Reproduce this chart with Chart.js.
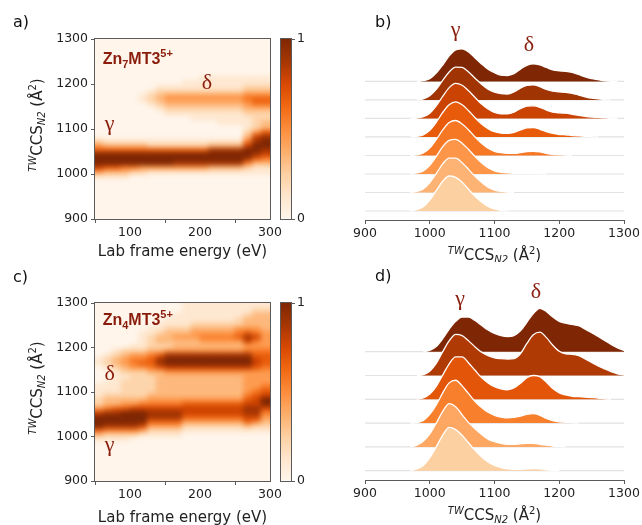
<!DOCTYPE html>
<html>
<head>
<meta charset="utf-8">
<script src="https://cdn.jsdelivr.net/npm/chart.js@4.4.0/dist/chart.umd.min.js"></script>
<style>
  body { margin: 0; background: #fff; width: 642px; height: 525px; position: relative; overflow: hidden; }
  canvas { position: absolute; }
</style>
</head>
<body>
<canvas id="hA" width="320" height="262" style="left:0;top:0"></canvas>
<canvas id="cA" width="45" height="262" style="left:275px;top:0"></canvas>
<canvas id="rB" width="322" height="262" style="left:320px;top:0"></canvas>
<canvas id="hC" width="320" height="263" style="left:0;top:262px"></canvas>
<canvas id="cC" width="45" height="263" style="left:275px;top:262px"></canvas>
<canvas id="rD" width="322" height="263" style="left:320px;top:262px"></canvas>
<script>
// ---------- data ----------
// heatmap columns (lab frame energy, eV, bin centres)
const heatEnergy = [56.25, 68.75, 81.25, 93.75, 106.25, 118.75, 131.25, 143.75, 156.25, 168.75,
  181.25, 193.75, 206.25, 218.75, 231.25, 243.75, 256.25, 268.75, 281.25, 293.75];
// heatmap rows (CCS lower bin edge, top row first)
const heatCcs = [1290, 1280, 1270, 1260, 1250, 1240, 1230, 1220, 1210, 1200,
  1190, 1180, 1170, 1160, 1150, 1140, 1130, 1120, 1110, 1100,
  1090, 1080, 1070, 1060, 1050, 1040, 1030, 1020, 1010, 1000,
  990, 980, 970, 960, 950, 940, 930, 920, 910, 900];
// intensity 0..9 per cell, one string per row
const zn7Heat = [
  '00000000000000000000', '00000000000000000000', '00000000000000000000', '00000000000000000000',
  '00000000000000000000', '00000000000000000000', '00000000000000000000', '00000000000000000000',
  '00000000000011111111', '00000000001111111111', '00000001111111111222', '00000012222222222333',
  '00000123444444444555', '00000123444444444566', '00000012333333333455', '00000001222222222333',
  '00000000111111111222', '00000000000111111122', '00000000000000111123', '00000000000000000123',
  '00000000000000000246', '00000000000000000378', '21111111111111111589', '43333322222223333799',
  '66666666666668888998', '99999999999999999987', '99999999999999999865', '99999999988888888533',
  '76655444444443333211', '43332211111111111111', '11110000000000000000', '00000000000000000000',
  '00000000000000000000', '00000000000000000000', '00000000000000000000', '00000000000000000000',
  '00000000000000000000', '00000000000000000000', '00000000000000000000', '00000000000000000000'
];
const zn4Heat = [
  '00000000001111111111', '00000000001111111122', '00000000011111111233', '00000000111111112333',
  '00000001111222222333', '00000011222333334443', '00000112333444445654', '00000123344455556874',
  '00000123333344444754', '00001122233333333444', '00122233444444444555', '01234456888888888866',
  '12345568999999999976', '12345668999999999976', '01234456777777777765', '00122233444444444444',
  '00112223333333333444', '01122223333333333444', '11122223333333333445', '11122223333333333456',
  '12222233333333333567', '23333344444444444679', '23344555556666666779', '45667777777777777887',
  '78899988887777777885', '99999988886666666774', '99999966664444444653', '98888744442222222322',
  '65555422221111111111', '32222111110000000000', '11110000000000000000', '00000000000000000000',
  '00000000000000000000', '00000000000000000000', '00000000000000000000', '00000000000000000000',
  '00000000000000000000', '00000000000000000000', '00000000000000000000', '00000000000000000000'
];
// ridge x positions (CCS, A^2)
const ridgeCcs = [960, 970, 980, 990, 1000, 1010, 1020, 1030, 1040, 1050, 1060, 1070, 1080, 1090,
  1100, 1110, 1120, 1130, 1140, 1150, 1160, 1170, 1180, 1190, 1200, 1210, 1220, 1230, 1240,
  1250, 1260, 1270, 1280, 1290, 1300];
// Zn7MT3 ridges, top (highest energy) to bottom
const zn7Ridges = [
  [0, 0, 0, 0.02, 0.08, 0.24, 0.47, 0.73, 0.9, 0.93, 0.84, 0.67, 0.5, 0.35, 0.25, 0.18, 0.17, 0.22, 0.35, 0.46, 0.5, 0.47, 0.4, 0.33, 0.3, 0.29, 0.26, 0.2, 0.13, 0.08, 0.05, 0.02, 0.005],
  [0, 0, 0, 0.03, 0.12, 0.3, 0.56, 0.8, 0.94, 0.93, 0.8, 0.62, 0.45, 0.31, 0.22, 0.18, 0.17, 0.23, 0.34, 0.42, 0.43, 0.38, 0.3, 0.25, 0.23, 0.22, 0.19, 0.14, 0.09, 0.05, 0.03, 0.01],
  [0, 0, 0.01, 0.05, 0.15, 0.36, 0.63, 0.88, 1.0, 0.95, 0.79, 0.6, 0.41, 0.27, 0.17, 0.13, 0.13, 0.18, 0.28, 0.35, 0.36, 0.32, 0.24, 0.18, 0.16, 0.15, 0.12, 0.09, 0.06, 0.04, 0.03, 0.02, 0.005],
  [0, 0, 0.02, 0.06, 0.19, 0.42, 0.7, 0.92, 1.0, 0.92, 0.75, 0.55, 0.37, 0.24, 0.15, 0.11, 0.1, 0.13, 0.2, 0.26, 0.27, 0.22, 0.15, 0.1, 0.07, 0.06, 0.04, 0.03, 0.02, 0.01],
  [0, 0, 0.02, 0.07, 0.21, 0.45, 0.73, 0.94, 1.0, 0.9, 0.73, 0.53, 0.35, 0.21, 0.12, 0.08, 0.06, 0.06, 0.08, 0.11, 0.12, 0.1, 0.06, 0.03, 0.02, 0.01],
  [0, 0, 0.03, 0.09, 0.25, 0.5, 0.78, 0.96, 0.99, 0.88, 0.7, 0.5, 0.32, 0.18, 0.09, 0.05, 0.03, 0.02, 0.02, 0.02, 0.02, 0.01],
  [0, 0, 0.03, 0.1, 0.28, 0.54, 0.82, 0.98, 0.98, 0.85, 0.66, 0.46, 0.29, 0.15, 0.07, 0.03, 0.01],
  [0, 0, 0.04, 0.12, 0.31, 0.58, 0.85, 1.0, 0.96, 0.82, 0.62, 0.42, 0.26, 0.13, 0.06, 0.02]
];
// Zn4MT3 ridges, top to bottom
const zn4Ridges = [
  [0, 0, 0, 0, 0.03, 0.12, 0.3, 0.52, 0.7, 0.8, 0.8, 0.72, 0.61, 0.5, 0.42, 0.37, 0.35, 0.37, 0.48, 0.68, 0.88, 1.0, 0.93, 0.8, 0.7, 0.66, 0.63, 0.6, 0.52, 0.44, 0.35, 0.26, 0.17, 0.09, 0.03],
  [0, 0, 0, 0.02, 0.1, 0.28, 0.55, 0.8, 0.95, 0.92, 0.8, 0.66, 0.54, 0.46, 0.41, 0.39, 0.38, 0.39, 0.5, 0.74, 0.94, 1.0, 0.88, 0.7, 0.56, 0.5, 0.49, 0.46, 0.38, 0.3, 0.22, 0.15, 0.09, 0.04, 0.01],
  [0, 0, 0, 0.03, 0.12, 0.3, 0.56, 0.82, 0.98, 0.98, 0.84, 0.67, 0.5, 0.38, 0.29, 0.24, 0.22, 0.26, 0.37, 0.5, 0.55, 0.52, 0.4, 0.25, 0.15, 0.1, 0.07, 0.06, 0.05, 0.04, 0.03, 0.01],
  [0, 0, 0.01, 0.06, 0.2, 0.42, 0.7, 0.93, 0.99, 0.86, 0.68, 0.5, 0.36, 0.25, 0.18, 0.14, 0.12, 0.13, 0.16, 0.2, 0.22, 0.18, 0.11, 0.06, 0.03, 0.02, 0.01],
  [0, 0, 0.04, 0.13, 0.3, 0.55, 0.82, 1.0, 0.93, 0.74, 0.56, 0.42, 0.29, 0.18, 0.12, 0.08, 0.06, 0.06, 0.07, 0.08, 0.08, 0.06, 0.04, 0.02, 0.01],
  [0, 0, 0.04, 0.12, 0.3, 0.55, 0.82, 1.0, 0.95, 0.82, 0.64, 0.47, 0.32, 0.2, 0.12, 0.07, 0.04, 0.03, 0.03, 0.04, 0.05, 0.04, 0.02, 0.01]
];
const energyTicks = [100, 200, 300];
const ccsTicks = [900, 1000, 1100, 1200, 1300];
const cbarTicks = [0, 1];
const cbarRange = [0, 1];

// ---------- style ----------
const ORANGES = ['#fff5eb', '#fee6ce', '#fdd0a2', '#fdae6b', '#fd8d3c', '#f16913', '#d94801', '#a63603', '#7f2704'];
const AXIS = '#5a5a5a';
const RED = '#8a1c0b';
const TICK_FONT = { family: 'DejaVu Sans', size: 12.5 };
Chart.defaults.font.family = 'DejaVu Sans';

function hex(h) { return [1, 3, 5].map(i => parseInt(h.slice(i, i + 2), 16)); }
function cmap(v) {
  v = Math.max(0, Math.min(1, v));
  const p = v * (ORANGES.length - 1);
  const i = Math.min(Math.floor(p), ORANGES.length - 2), f = p - i;
  const a = hex(ORANGES[i]), b = hex(ORANGES[i + 1]);
  return 'rgb(' + a.map((c, k) => Math.round(c + (b[k] - c) * f)).join(',') + ')';
}

// soften the cell edges like an interpolated image (edges replicated before blurring)
const smooth = {
  id: 'smooth',
  afterDatasetsDraw(chart, args, opts) {
    const a = chart.chartArea, ctx = chart.ctx, src = chart.canvas;
    const x = Math.round(a.left), y = Math.round(a.top);
    const w = Math.round(a.right) - x, h = Math.round(a.bottom) - y, m = 10;
    const tmp = document.createElement('canvas');
    tmp.width = w + 2 * m; tmp.height = h + 2 * m;
    const t = tmp.getContext('2d');
    t.drawImage(src, x, y, w, h, m, m, w, h);
    t.drawImage(src, x + 1, y, 1, h, 0, m, m, h);
    t.drawImage(src, x + w - 2, y, 1, h, m + w, m, m, h);
    t.drawImage(tmp, 0, m + 1, w + 2 * m, 1, 0, 0, w + 2 * m, m);
    t.drawImage(tmp, 0, m + h - 2, w + 2 * m, 1, 0, m + h, w + 2 * m, m);
    ctx.save();
    ctx.beginPath();
    ctx.rect(x, y, w, h);
    ctx.clip();
    ctx.filter = 'blur(' + (opts.radius || 2.5) + 'px)';
    ctx.drawImage(tmp, x - m, y - m);
    ctx.restore();
  }
};

// box around plot areas
const frame = {
  id: 'frame',
  afterDatasetsDraw(chart) {
    const a = chart.chartArea, ctx = chart.ctx;
    ctx.save();
    ctx.strokeStyle = AXIS;
    ctx.lineWidth = 1;
    ctx.strokeRect(Math.round(a.left) - 0.5, Math.round(a.top) - 0.5,
      Math.round(a.right - a.left) + 1, Math.round(a.bottom - a.top) + 1);
    ctx.restore();
  }
};

// text with sub/superscripts
const richText = {
  id: 'richText',
  afterDraw(chart, args, opts) {
    const ctx = chart.ctx;
    (opts.items || []).forEach(it => {
      const [x, y] = it.at(chart);
      const font = p => (p.i ? 'italic ' : '') + (p.b ? 'bold ' : '') + p.s + 'px ' + (p.f || '"DejaVu Sans"');
      ctx.save();
      ctx.translate(x, y);
      if (it.rot) ctx.rotate(it.rot);
      ctx.fillStyle = it.color || '#222';
      ctx.textBaseline = 'alphabetic';
      ctx.textAlign = 'left';
      let w = 0;
      it.parts.forEach(p => { ctx.font = font(p); w += ctx.measureText(p.t).width; });
      let cx = it.align === 'left' ? 0 : -w / 2;
      it.parts.forEach(p => {
        ctx.font = font(p);
        ctx.fillText(p.t, cx, p.dy || 0);
        cx += ctx.measureText(p.t).width;
      });
      ctx.restore();
    });
  }
};

const dat = (x, y) => ch => [ch.scales.x.getPixelForValue(x), ch.scales.y.getPixelForValue(y)];
const abs = (x, y) => () => [x, y];
const ccsTitle = () => [
  { t: 'TW', s: 10, i: 1, dy: -6 }, { t: 'CCS', s: 15 }, { t: 'N2', s: 10, i: 1, dy: 3 },
  { t: ' (Å', s: 15 }, { t: '2', s: 10, dy: -6 }, { t: ')', s: 15 }
];
const greek = (t, x, y) => ({ at: dat(x, y), color: RED, parts: [{ t, s: 22, f: '"Liberation Serif"' }] });
const species = (n, x, y) => ({
  at: dat(x, y), color: RED, align: 'left', parts: [
    { t: 'Zn', s: 16, b: 1, f: '"Liberation Sans"' }, { t: n, s: 11, b: 1, dy: 4, f: '"Liberation Sans"' },
    { t: 'MT3', s: 16, b: 1, f: '"Liberation Sans"' }, { t: '5+', s: 11, b: 1, dy: -7, f: '"Liberation Sans"' }
  ]
});
const letter = (t, x, y) => ({ at: abs(x, y), align: 'left', color: '#111', parts: [{ t, s: 16 }] });

function axisGrid() {
  return { drawOnChartArea: false, tickLength: 4, color: AXIS };
}
function tickOpts(pad) {
  return { font: TICK_FONT, color: '#222', padding: pad, maxRotation: 0, callback: v => String(v) };
}

function heatChart(id, rows, padTop, padBottom, titleGap, notes) {
  const datasets = rows.map((row, i) => ({
    data: heatEnergy.map((e, j) => ({ x: e, y: [heatCcs[i], heatCcs[i] + 10], v: Number(row[j] || 0) / 9 })),
    backgroundColor: c => cmap(c.raw ? c.raw.v : 0),
    borderWidth: 0,
    inflateAmount: 0.6,
    grouped: false,
    barPercentage: 1,
    categoryPercentage: 1
  }));
  const items = notes.concat([
    { at: ch => [(ch.chartArea.left + ch.chartArea.right) / 2, ch.chartArea.bottom + titleGap], parts: [{ t: 'Lab frame energy (eV)', s: 15 }] },
    { at: ch => [ch.chartArea.left - 53, (ch.chartArea.top + ch.chartArea.bottom) / 2 - 4], rot: -Math.PI / 2, parts: ccsTitle() }
  ]);
  return new Chart(document.getElementById(id), {
    type: 'bar',
    data: { datasets },
    options: {
      responsive: false, animation: false, devicePixelRatio: 1, events: [],
      layout: { padding: { top: padTop, bottom: padBottom, left: 55, right: 50 } },
      plugins: { legend: { display: false }, tooltip: { enabled: false }, richText: { items }, smooth: { radius: 2.6 } },
      scales: {
        x: {
          type: 'linear', min: 50, max: 300, offset: false,
          afterBuildTicks: s => { s.ticks = energyTicks.map(v => ({ value: v })); },
          afterFit: s => { s.height = 30; },
          grid: axisGrid(), border: { display: false },
          ticks: tickOpts(2)
        },
        y: {
          type: 'linear', min: 900, max: 1300,
          afterBuildTicks: s => { s.ticks = ccsTicks.map(v => ({ value: v })); },
          afterFit: s => { s.width = 40; },
          grid: axisGrid(), border: { display: false },
          ticks: tickOpts(3)
        }
      }
    },
    plugins: [smooth, frame, richText]
  });
}

function cbarChart(id, padTop, padBottom) {
  return new Chart(document.getElementById(id), {
    type: 'bar',
    data: {
      labels: ['intensity'],
      datasets: [{
        data: [cbarRange],
        backgroundColor: c => {
          const a = c.chart.chartArea;
          if (!a) return ORANGES[0];
          const g = c.chart.ctx.createLinearGradient(0, a.bottom, 0, a.top);
          ORANGES.forEach((col, i) => g.addColorStop(i / (ORANGES.length - 1), col));
          return g;
        },
        borderWidth: 0, inflateAmount: 0, barPercentage: 1, categoryPercentage: 1
      }]
    },
    options: {
      responsive: false, animation: false, devicePixelRatio: 1, events: [],
      layout: { padding: { top: padTop, bottom: padBottom, left: 6, right: 0 } },
      plugins: { legend: { display: false }, tooltip: { enabled: false } },
      scales: {
        x: { display: false },
        y: {
          position: 'right', min: 0, max: 1,
          afterBuildTicks: s => { s.ticks = cbarTicks.map(v => ({ value: v })); },
          afterFit: s => { s.width = 29; },
          grid: axisGrid(), border: { display: false },
          ticks: tickOpts(2)
        }
      }
    },
    plugins: [frame]
  });
}

function ridgeChart(id, ridges, step, yMin, yMax, padTop, padBottom, notes) {
  const n = ridges.length;
  const datasets = [];
  ridges.forEach((vals, i) => {
    const k = n - 1 - i;           // 0 = bottom ridge
    const off = k * step;
    let first = vals.findIndex(v => v > 0), last = first;
    vals.forEach((v, m) => { if (v > 0) last = m; });
    const pts = [];
    for (let m = Math.max(first - 1, 0); m <= Math.min(last + 1, ridgeCcs.length - 1); m++) {
      pts.push({ x: ridgeCcs[m], y: off + (vals[m] || 0) });
    }
    datasets.push({
      data: pts, order: 2 * (n - i), fill: { value: off },
      backgroundColor: cmap(0.25 + 0.75 * k / (n - 1)),
      borderColor: '#ffffff', borderWidth: 1.3, pointRadius: 0,
      cubicInterpolationMode: 'monotone'
    });
    datasets.push({
      data: [{ x: 900, y: off }, { x: 1300, y: off }], order: 2 * (n - i) + 1, fill: false,
      borderColor: '#e2e2e2', borderWidth: 1.2, pointRadius: 0
    });
  });
  const items = notes.concat([
    { at: ch => [(ch.chartArea.left + ch.chartArea.right) / 2, ch.chartArea.bottom + 40], parts: ccsTitle() }
  ]);
  return new Chart(document.getElementById(id), {
    type: 'line',
    data: { datasets },
    options: {
      responsive: false, animation: false, devicePixelRatio: 1, events: [],
      layout: { padding: { top: padTop, bottom: padBottom, left: 45, right: 18 } },
      plugins: { legend: { display: false }, tooltip: { enabled: false }, richText: { items } },
      scales: {
        x: {
          type: 'linear', min: 900, max: 1300,
          afterBuildTicks: s => { s.ticks = ccsTicks.map(v => ({ value: v })); },
          afterFit: s => { s.height = 30; },
          grid: axisGrid(), border: { display: true, color: AXIS, width: 1 },
          ticks: tickOpts(2)
        },
        y: { display: false, min: yMin, max: yMax }
      }
    },
    plugins: [richText]
  });
}

// ---------- panels ----------
heatChart('hA', zn7Heat, 39, 13, 37, [
  letter('a)', 13, 27),
  species('7', 61, 1244),
  greek('δ', 210, 1189),
  greek('γ', 71, 1098)
]);
cbarChart('cA', 39, 43);
ridgeChart('rB', zn7Ridges, 0.529, -0.257, 5.03, 35, 12, [
  letter('b)', 55, 27),
  greek('γ', 1040, 5.0),
  greek('δ', 1153, 4.57)
]);
heatChart('hC', zn4Heat, 41, 14, 41, [
  letter('c)', 13, 20),
  species('4', 61, 1251),
  greek('δ', 71, 1127),
  greek('γ', 71, 967)
]);
cbarChart('cC', 41, 44);
ridgeChart('rD', zn4Ridges, 0.55, -0.215, 4.06, 33, 15, [
  letter('d)', 55, 19),
  greek('γ', 1047, 3.83),
  greek('δ', 1164, 3.99)
]);
</script>
</body>
</html>
